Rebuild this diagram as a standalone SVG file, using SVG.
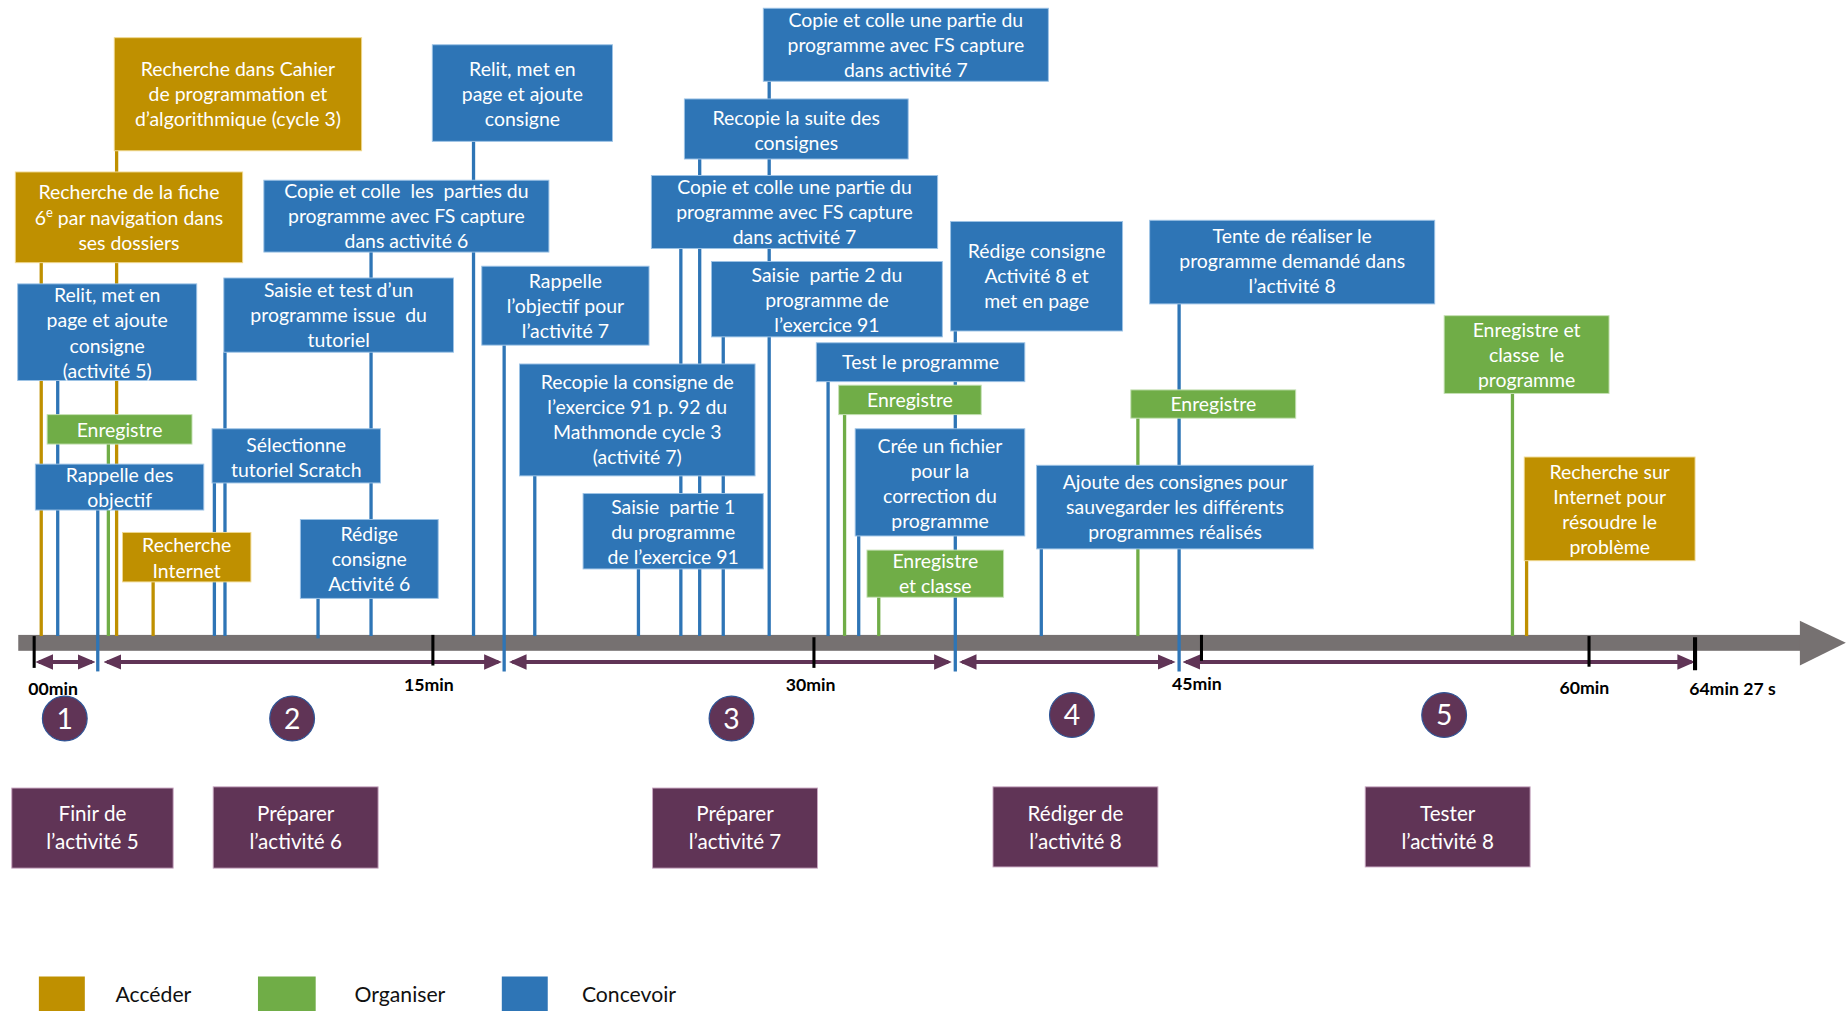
<svg xmlns="http://www.w3.org/2000/svg" width="1847" height="1011" viewBox="0 0 1847 1011">
<style>
.c{fill:#2E75B6;stroke:#9DC3E6;stroke-width:0.8}
.g{fill:#BF9000;stroke:#F0D890;stroke-width:0.8}
.o{fill:#70AD47;stroke:#C5E0B4;stroke-width:0.8}
.p{fill:#603456;stroke:#C9A8C2;stroke-width:0.8}
.t{font-family:Lato,"Open Sans","Liberation Sans",sans-serif;font-size:16.5px;fill:#fff;text-anchor:middle}
.pt{font-family:Lato,"Open Sans","Liberation Sans",sans-serif;font-size:17.5px;fill:#fff;text-anchor:middle}
.num{font-family:Lato,"Open Sans","Liberation Sans",sans-serif;font-size:24px;fill:#fff;text-anchor:middle}
.tick{font-family:Lato,"Liberation Sans",sans-serif;font-size:15px;font-weight:bold;fill:#000}
.leg{font-family:Lato,"Open Sans","Liberation Sans",sans-serif;font-size:18px;fill:#111}
.lc{stroke:#2E75B6;stroke-width:2.8;fill:none}
.lg{stroke:#BF9000;stroke-width:2.8;fill:none}
.lo{stroke:#70AD47;stroke-width:2.8;fill:none}
.arr{stroke:#603456;stroke-width:3.4;fill:none;marker-start:url(#ah);marker-end:url(#ah)}
.tk{stroke:#000;stroke-width:2.6}
</style>
<defs>
<marker id="ah" markerWidth="15" markerHeight="13" refX="12" refY="6.5" orient="auto-start-reverse" markerUnits="userSpaceOnUse"><path d="M0,0 L15,6.5 L0,13 Z" fill="#603456"/></marker>
</defs>
<rect width="1847" height="1011" fill="#fff"/>
<g transform="scale(1.17793)">
<g id="axis">
<rect x="15.5" y="539" width="1513" height="13.5" fill="#767171"/>
<polygon points="1528,527 1567,545.75 1528,565" fill="#767171"/>
</g>
<g id="connectors">
<line class="lg" x1="99" y1="128" x2="99" y2="540"/>
<line class="lg" x1="35" y1="223" x2="35" y2="540"/>
<line class="lg" x1="130" y1="494" x2="130" y2="540"/>
<line class="lg" x1="1296" y1="476" x2="1296" y2="540"/>
<line class="lo" x1="92" y1="377" x2="92" y2="540"/>
<line class="lo" x1="717" y1="352" x2="717" y2="540"/>
<line class="lo" x1="746" y1="507" x2="746" y2="540"/>
<line class="lo" x1="966" y1="355" x2="966" y2="540"/>
<line class="lo" x1="1284" y1="334" x2="1284" y2="540"/>
<line class="lc" x1="49" y1="323" x2="49" y2="540"/>
<line class="lc" x1="402" y1="120" x2="402" y2="540"/>
<line class="lc" x1="315" y1="214" x2="315" y2="540"/>
<line class="lc" x1="191" y1="299" x2="191" y2="540"/>
<line class="lc" x1="182" y1="410" x2="182" y2="540"/>
<line class="lc" x1="270" y1="508" x2="270" y2="542"/>
<line class="lc" x1="454" y1="404" x2="454" y2="540"/>
<line class="lc" x1="542" y1="483" x2="542" y2="540"/>
<line class="lc" x1="653" y1="69" x2="653" y2="540"/>
<line class="lc" x1="594" y1="135" x2="594" y2="540"/>
<line class="lc" x1="578" y1="211" x2="578" y2="540"/>
<line class="lc" x1="614" y1="286" x2="614" y2="540"/>
<line class="lc" x1="703" y1="324" x2="703" y2="540"/>
<line class="lc" x1="729" y1="455" x2="729" y2="540"/>
<line class="lc" x1="884" y1="466" x2="884" y2="540"/>
<line class="arr" x1="33" y1="562" x2="78" y2="562"/>
<line class="arr" x1="91" y1="562" x2="423" y2="562"/>
<line class="arr" x1="435" y1="562" x2="805" y2="562"/>
<line class="arr" x1="817" y1="562" x2="995" y2="562"/>
<line class="arr" x1="1007" y1="562" x2="1436" y2="562"/>
<line class="lc" x1="83" y1="433" x2="83" y2="570"/>
<line class="lc" x1="428" y1="293" x2="428" y2="570"/>
<line class="lc" x1="811" y1="281" x2="811" y2="570"/>
<line class="lc" x1="1001" y1="258" x2="1001" y2="570"/>
<line class="tk" x1="29" y1="540" x2="29" y2="567"/>
<line class="tk" x1="367.5" y1="539" x2="367.5" y2="565"/>
<line class="tk" x1="691" y1="541" x2="691" y2="567"/>
<line class="tk" x1="1020" y1="539" x2="1020" y2="561"/>
<line class="tk" x1="1349" y1="540" x2="1349" y2="566"/>
<line class="tk" x1="1439" y1="541" x2="1439" y2="569" style="stroke-width:3.5"/>
</g>
<g id="ticks">
<text class="tick" x="24" y="590">00min</text>
<text class="tick" x="343" y="587">15min</text>
<text class="tick" x="667" y="587">30min</text>
<text class="tick" x="995" y="586">45min</text>
<text class="tick" x="1324" y="589">60min</text>
<text class="tick" x="1434" y="590">64min 27 s</text>
</g>
<g id="n-g1"><rect class="g" x="97" y="32" width="210" height="96"/><text class="t"><tspan x="202" y="64.3">Recherche dans Cahier</tspan><tspan x="202" y="85.6">de programmation et</tspan><tspan x="202" y="106.9">d’algorithmique (cycle 3)</tspan></text></g>
<g id="n-g2"><rect class="g" x="13" y="146" width="193" height="77"/><text class="t"><tspan x="109.5" y="169.3">Recherche de la fiche</tspan><tspan x="109.5" y="190.6">6<tspan dy="-6" font-size="11">e</tspan><tspan dy="6"> par navigation dans</tspan></tspan><tspan x="109.5" y="211.9">ses dossiers</tspan></text></g>
<g id="n-g3"><rect class="g" x="104" y="452" width="109" height="42"/><text class="t"><tspan x="158.5" y="469">Recherche</tspan><tspan x="158.5" y="490.3">Internet</tspan></text></g>
<g id="n-g4"><rect class="g" x="1294" y="388" width="145" height="88"/><text class="t"><tspan x="1366.5" y="406.7">Recherche sur</tspan><tspan x="1366.5" y="428">Internet pour</tspan><tspan x="1366.5" y="449.3">résoudre le</tspan><tspan x="1366.5" y="470.6">problème</tspan></text></g>
<g id="n-o1"><rect class="o" x="40" y="352" width="123" height="25"/><text class="t" x="101.5" y="370.6">Enregistre</text></g>
<g id="n-o2"><rect class="o" x="712" y="327" width="121" height="25"/><text class="t" x="772.5" y="345.6">Enregistre</text></g>
<g id="n-o3"><rect class="o" x="736" y="467" width="116" height="40"/><text class="t"><tspan x="794" y="482.5">Enregistre</tspan><tspan x="794" y="503.8">et classe</tspan></text></g>
<g id="n-o4"><rect class="o" x="960" y="331" width="140" height="24"/><text class="t" x="1030" y="348.6">Enregistre</text></g>
<g id="n-o5"><rect class="o" x="1226" y="268" width="140" height="66"/><text class="t" xml:space="preserve"><tspan x="1296" y="286.3">Enregistre et</tspan><tspan x="1296" y="307.6">classe  le</tspan><tspan x="1296" y="328.9">programme</tspan></text></g>
<g id="n-b1"><rect class="c" x="15" y="241" width="152" height="82"/><text class="t"><tspan x="91" y="256.7">Relit, met en</tspan><tspan x="91" y="278">page et ajoute</tspan><tspan x="91" y="299.3">consigne</tspan><tspan x="91" y="320.6">(activité 5)</tspan></text></g>
<g id="n-b2"><rect class="c" x="30" y="394" width="143" height="39"/><text class="t"><tspan x="101.5" y="409.5">Rappelle des</tspan><tspan x="101.5" y="430.8">objectif</tspan></text></g>
<g id="n-b3"><rect class="c" x="367" y="38" width="153" height="82"/><text class="t"><tspan x="443.5" y="64.3">Relit, met en</tspan><tspan x="443.5" y="85.6">page et ajoute</tspan><tspan x="443.5" y="106.9">consigne</tspan></text></g>
<g id="n-b4"><rect class="c" x="224" y="153" width="242" height="61"/><text class="t" xml:space="preserve"><tspan x="345" y="168.3">Copie et colle  les  parties du</tspan><tspan x="345" y="189.6">programme avec FS capture</tspan><tspan x="345" y="210.9">dans activité 6</tspan></text></g>
<g id="n-b5"><rect class="c" x="190" y="236" width="195" height="63"/><text class="t" xml:space="preserve"><tspan x="287.5" y="252.3">Saisie et test d’un</tspan><tspan x="287.5" y="273.6">programme issue  du</tspan><tspan x="287.5" y="294.9">tutoriel</tspan></text></g>
<g id="n-b6"><rect class="c" x="180" y="364" width="143" height="46"/><text class="t"><tspan x="251.5" y="383.5">Sélectionne</tspan><tspan x="251.5" y="404.8">tutoriel Scratch</tspan></text></g>
<g id="n-b7"><rect class="c" x="255" y="441" width="117" height="67"/><text class="t"><tspan x="313.5" y="459.3">Rédige</tspan><tspan x="313.5" y="480.6">consigne</tspan><tspan x="313.5" y="501.9">Activité 6</tspan></text></g>
<g id="n-b8"><rect class="c" x="409" y="226" width="142" height="67"/><text class="t"><tspan x="480" y="244.3">Rappelle</tspan><tspan x="480" y="265.6">l’objectif pour</tspan><tspan x="480" y="286.9">l’activité 7</tspan></text></g>
<g id="n-b9"><rect class="c" x="441" y="309" width="200" height="95"/><text class="t"><tspan x="541" y="330.2">Recopie la consigne de</tspan><tspan x="541" y="351.5">l’exercice 91 p. 92 du</tspan><tspan x="541" y="372.8">Mathmonde cycle 3</tspan><tspan x="541" y="394.1">(activité 7)</tspan></text></g>
<g id="n-b10"><rect class="c" x="495" y="419" width="153" height="64"/><text class="t" xml:space="preserve"><tspan x="571.5" y="436.3">Saisie  partie 1</tspan><tspan x="571.5" y="457.6">du programme</tspan><tspan x="571.5" y="478.9">de l’exercice 91</tspan></text></g>
<g id="n-b11"><rect class="c" x="648" y="7" width="242" height="62"/><text class="t"><tspan x="769" y="23">Copie et colle une partie du</tspan><tspan x="769" y="44.3">programme avec FS capture</tspan><tspan x="769" y="65.6">dans activité 7</tspan></text></g>
<g id="n-b12"><rect class="c" x="581" y="84" width="190" height="51"/><text class="t"><tspan x="676" y="106">Recopie la suite des</tspan><tspan x="676" y="127.3">consignes</tspan></text></g>
<g id="n-b13"><rect class="c" x="553" y="149" width="243" height="62"/><text class="t"><tspan x="674.5" y="164.3">Copie et colle une partie du</tspan><tspan x="674.5" y="185.6">programme avec FS capture</tspan><tspan x="674.5" y="206.9">dans activité 7</tspan></text></g>
<g id="n-b14"><rect class="c" x="604" y="222" width="196" height="64"/><text class="t" xml:space="preserve"><tspan x="702" y="239.3">Saisie  partie 2 du</tspan><tspan x="702" y="260.6">programme de</tspan><tspan x="702" y="281.9">l’exercice 91</tspan></text></g>
<g id="n-b15"><rect class="c" x="807" y="188" width="146" height="93"/><text class="t"><tspan x="880" y="219.3">Rédige consigne</tspan><tspan x="880" y="240.6">Activité 8 et</tspan><tspan x="880" y="261.9">met en page</tspan></text></g>
<g id="n-b16"><rect class="c" x="693" y="291" width="177" height="33"/><text class="t" x="781.5" y="313.6">Test le programme</text></g>
<g id="n-b17"><rect class="c" x="726" y="364" width="144" height="91"/><text class="t"><tspan x="798" y="384.2">Crée un fichier</tspan><tspan x="798" y="405.5">pour la</tspan><tspan x="798" y="426.8">correction du</tspan><tspan x="798" y="448.1">programme</tspan></text></g>
<g id="n-b18"><rect class="c" x="880" y="395" width="235" height="71"/><text class="t"><tspan x="997.5" y="415.3">Ajoute des consignes pour</tspan><tspan x="997.5" y="436.6">sauvegarder les différents</tspan><tspan x="997.5" y="457.9">programmes réalisés</tspan></text></g>
<g id="n-b19"><rect class="c" x="976" y="187" width="242" height="71"/><text class="t"><tspan x="1097" y="206.3">Tente de réaliser le</tspan><tspan x="1097" y="227.6">programme demandé dans</tspan><tspan x="1097" y="248.9">l’activité 8</tspan></text></g>
<g id="phase-1"><circle cx="55" cy="610" r="19" fill="#603456" stroke="#2F5597" stroke-width="1"/><text class="num" x="55" y="618.5">1</text><rect class="p" x="10" y="669" width="137" height="68"/><text class="pt"><tspan x="78.5" y="697">Finir de</tspan><tspan x="78.5" y="721">l’activité 5</tspan></text></g>
<g id="phase-2"><circle cx="248" cy="610" r="19" fill="#603456" stroke="#2F5597" stroke-width="1"/><text class="num" x="248" y="618.5">2</text><rect class="p" x="181" y="668" width="140" height="69"/><text class="pt"><tspan x="251" y="697">Préparer</tspan><tspan x="251" y="721">l’activité 6</tspan></text></g>
<g id="phase-3"><circle cx="621" cy="610" r="19" fill="#603456" stroke="#2F5597" stroke-width="1"/><text class="num" x="621" y="618.5">3</text><rect class="p" x="554" y="669" width="140" height="68"/><text class="pt"><tspan x="624" y="697">Préparer</tspan><tspan x="624" y="721">l’activité 7</tspan></text></g>
<g id="phase-4"><circle cx="910" cy="607" r="19" fill="#603456" stroke="#2F5597" stroke-width="1"/><text class="num" x="910" y="615.5">4</text><rect class="p" x="843" y="668" width="140" height="68"/><text class="pt"><tspan x="913" y="697">Rédiger de</tspan><tspan x="913" y="721">l’activité 8</tspan></text></g>
<g id="phase-5"><circle cx="1226" cy="607" r="19" fill="#603456" stroke="#2F5597" stroke-width="1"/><text class="num" x="1226" y="615.5">5</text><rect class="p" x="1159" y="668" width="140" height="68"/><text class="pt"><tspan x="1229" y="697">Tester</tspan><tspan x="1229" y="721">l’activité 8</tspan></text></g>
<g id="legend">
<rect x="33" y="829" width="39" height="30" fill="#BF9000"/><text class="leg" x="98" y="851">Accéder</text>
<rect x="219" y="829" width="49" height="30" fill="#70AD47"/><text class="leg" x="301" y="851">Organiser</text>
<rect x="426" y="829" width="39" height="30" fill="#2E75B6"/><text class="leg" x="494" y="851">Concevoir</text>
</g>
</g>
</svg>
